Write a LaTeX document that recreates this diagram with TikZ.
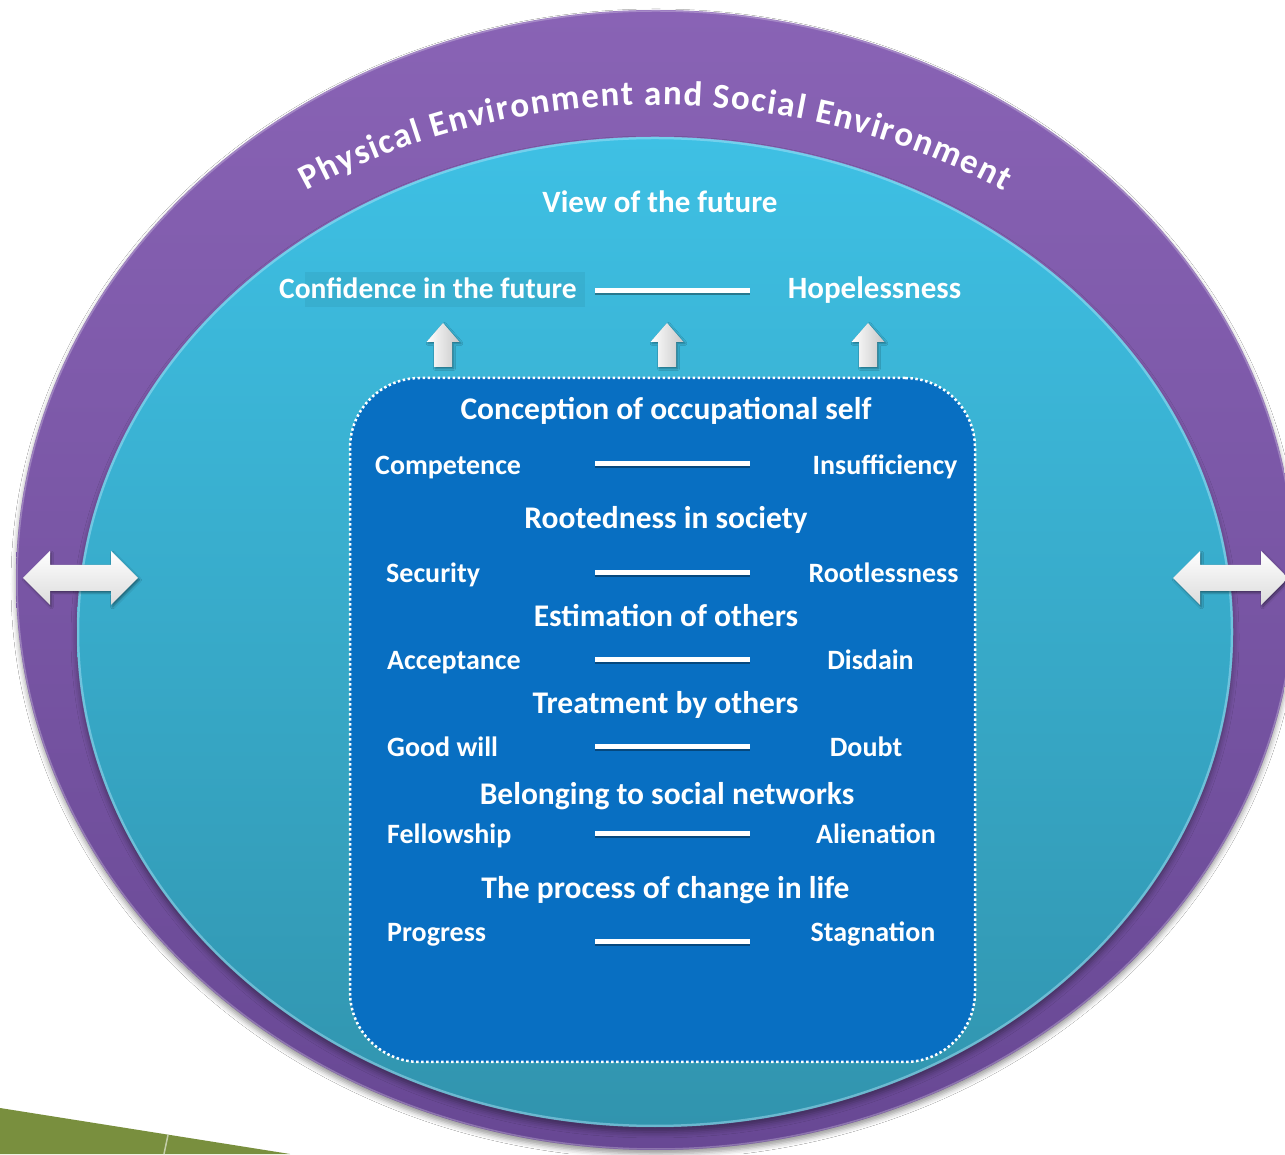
\documentclass[tikz,border=0pt]{standalone}
\usepackage{fontspec}
\setmainfont{Carlito}
\usetikzlibrary{decorations.text,shadows.blur}
\definecolor{purpA}{RGB}{137,99,181}
\definecolor{purpB}{RGB}{104,72,148}
\definecolor{cyanA}{RGB}{62,192,228}
\definecolor{cyanM}{RGB}{55,176,212}
\definecolor{cyanB}{RGB}{49,148,174}
\definecolor{coreblue}{RGB}{8,111,194}
\definecolor{grn}{RGB}{121,143,62}
\newcommand\arcfnt{\bfseries\fontsize{35}{40}\selectfont\color{white}}
\tikzset{
  lbl/.style={text=white, font=\bfseries\fontsize{28}{32}\selectfont, inner sep=0pt},
  hdr/.style={text=white, font=\bfseries\fontsize{31.5}{36}\selectfont, inner sep=0pt, anchor=base},
  toplbl/.style={text=white, font=\bfseries\fontsize{31}{35}\selectfont, inner sep=0pt},
  bar/.style={white, line width=5pt},
  barshadow/.style={black, opacity=0.35, line width=5pt},
  upshade/.style={left color=white, middle color=white, right color=black!22,
    blur shadow={shadow xshift=1.5pt, shadow yshift=-1.5pt, shadow blur radius=2pt}},
  lrshade/.style={top color=white, bottom color=black!14,
    blur shadow={shadow xshift=1.5pt, shadow yshift=-2pt, shadow blur radius=2pt}},
  corebox/.style={fill=coreblue, draw=white, line width=2.5pt, dash pattern=on 2.5pt off 2.5pt,
    rounded corners=70pt, minimum width=625pt, minimum height=684pt, inner sep=0pt}
}
\newcommand\uparr[1]{%
  \path[upshade] (#1,831) -- (#1+16.5,812) -- (#1+9,812) -- (#1+9,787) -- (#1-9,787)
    -- (#1-9,812) -- (#1-16.5,812) -- cycle;}
\newcommand\lrarr[3]{% left tip, right tip, center y
  \path[lrshade] (#1,#3) -- (#1+27,#3+27) -- (#1+27,#3+13) -- (#2-27,#3+13) -- (#2-27,#3+27)
    -- (#2,#3) -- (#2-27,#3-27) -- (#2-27,#3-13) -- (#1+27,#3-13) -- (#1+27,#3-27) -- cycle;}
\begin{document}
\begin{tikzpicture}[x=1pt,y=1pt]
\useasboundingbox (0,0) rectangle (1285,1154);
\clip (0,0) rectangle (1285,1154);
\fill[white] (0,0) rectangle (1285,1154);
% green corner shape
\fill[grn] (0,46) -- (290,0) -- (0,0) -- cycle;
\draw[grn!45!white, line width=1.5pt] (168,19) -- (164,0);
% outer purple ellipse
\path[top color=purpA, middle color=purpA!88!purpB, bottom color=purpB,
  blur shadow={shadow xshift=0pt, shadow yshift=-4pt, shadow blur radius=5pt}]
  (656,574) ellipse [x radius=640pt, y radius=570pt];
\draw[white, opacity=0.25, line width=1.5pt] (656,574) ellipse [x radius=639pt, y radius=569pt];
% inner cyan ellipse
\path[top color=cyanA, middle color=cyanM, bottom color=cyanB,
  blur shadow={shadow xshift=0pt, shadow yshift=-5pt, shadow blur radius=6pt}]
  (655,522) ellipse [x radius=578pt, y radius=495pt];
\draw[cyan!30!white, opacity=0.45, line width=2.5pt] (655,522) ellipse [x radius=577pt, y radius=494pt];
% arc text
\path[decorate, decoration={text along path, text align=fit to path,
  text={|\arcfnt|Physical Environment and Social Environment}}]
  (655,574) ++(125:607pt and 475pt) arc[start angle=125, end angle=55, x radius=607pt, y radius=475pt];
% side double arrows
\lrarr{23}{138}{576}
\lrarr{1173}{1288}{576}
% top section
\node[toplbl, anchor=base] (view) at (660,941) {View of the future};
\fill[black, opacity=0.05] (305,847) rectangle (585,882);
\node[toplbl, anchor=base west, font=\bfseries\fontsize{29.5}{34}\selectfont] (conf) at (279,855) {Confidence in the future};
\node[toplbl, anchor=base] (hope) at (874.5,855) {Hopelessness};
\coordinate (b0l) at (595,863); \coordinate (b0r) at (750,863);
\draw[barshadow] ([yshift=-2pt]b0l) -- ([yshift=-2pt]b0r);
\draw[bar] (b0l) -- (b0r);
\uparr{443}\uparr{667}\uparr{868}
% core box
\node[corebox] (core) at (662.5,434) {};
% headings
\node[hdr] (h1) at (666,734) {Conception of occupational self};
\node[hdr] (h2) at (666,625) {Rootedness in society};
\node[hdr] (h3) at (666,527) {Estimation of others};
\node[hdr] (h4) at (665.5,440) {Treatment by others};
\node[hdr] (h5) at (667,349) {Belonging to social networks};
\node[hdr] (h6) at (665.5,255) {The process of change in life};
% left labels
\node[lbl, anchor=base west] (l1) at (375,679) {Competence};
\node[lbl, anchor=base west] (l2) at (386,571) {Security};
\node[lbl, anchor=base west] (l3) at (387,484) {Acceptance};
\node[lbl, anchor=base west] (l4) at (387,397) {Good will};
\node[lbl, anchor=base west] (l5) at (387,310) {Fellowship};
\node[lbl, anchor=base west] (l6) at (387,212) {Progress};
% right labels
\node[lbl, anchor=base] (r1) at (885,679) {Insufficiency};
\node[lbl, anchor=base] (r2) at (883.5,571) {Rootlessness};
\node[lbl, anchor=base] (r3) at (870.5,484) {Disdain};
\node[lbl, anchor=base] (r4) at (866,397) {Doubt};
\node[lbl, anchor=base] (r5) at (876,310) {Alienation};
\node[lbl, anchor=base] (r6) at (873,212) {Stagnation};
% bars
\foreach \n/\yy in {1/690,2/581,3/494,4/407,5/320,6/212}{
  \coordinate (b\n l) at (595,\yy); \coordinate (b\n r) at (750,\yy);
  \draw[barshadow] ([yshift=-2pt]b\n l) -- ([yshift=-2pt]b\n r);
  \draw[bar] (b\n l) -- (b\n r);
}
\end{tikzpicture}
\end{document}
